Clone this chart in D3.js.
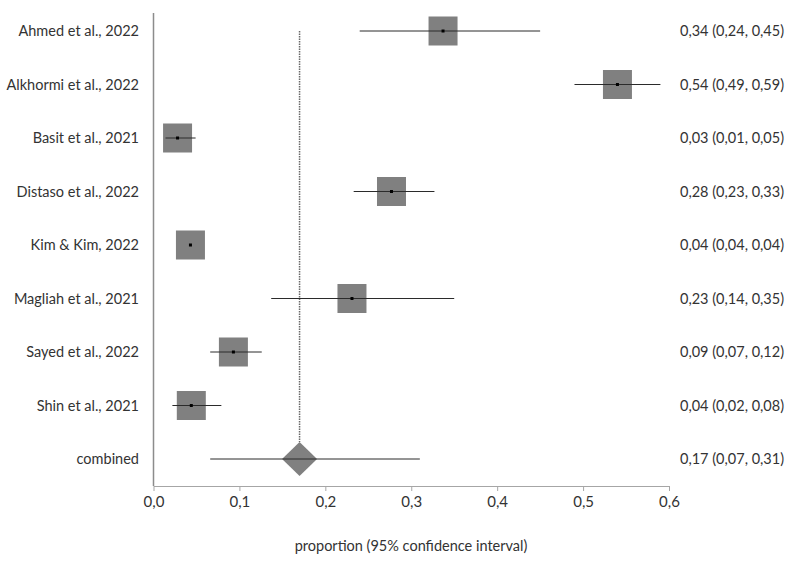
<!DOCTYPE html>
<html>
<head>
<meta charset="utf-8">
<script src="https://cdn.jsdelivr.net/npm/d3@7"></script>
<style>
  body { margin: 0; background: #fff; }
  text { font-family: Lato, "Open Sans", sans-serif; fill: #333; }
</style>
</head>
<body>
<div id="chart"></div>
<script>
// study rows, then the pooled estimate
const studies = ['Ahmed et al., 2022', 'Alkhormi et al., 2022', 'Basit et al., 2021', 'Distaso et al., 2022',
                 'Kim & Kim, 2022', 'Magliah et al., 2021', 'Sayed et al., 2022', 'Shin et al., 2021'];
const estimates = [0.337, 0.54, 0.028, 0.277, 0.043, 0.231, 0.093, 0.044];
const lower = [0.24, 0.49, 0.014, 0.233, 0.04, 0.137, 0.066, 0.022];
const upper = [0.45, 0.59, 0.049, 0.327, 0.04, 0.35, 0.126, 0.079];
const labels = ['0,34 (0,24, 0,45)', '0,54 (0,49, 0,59)', '0,03 (0,01, 0,05)', '0,28 (0,23, 0,33)',
                '0,04 (0,04, 0,04)', '0,23 (0,14, 0,35)', '0,09 (0,07, 0,12)', '0,04 (0,02, 0,08)'];
const combinedName = 'combined';
const combinedEst = 0.17;
const combinedLow = 0.066;
const combinedHigh = 0.31;
const combinedLabel = '0,17 (0,07, 0,31)';
const xTicks = [0, 0.1, 0.2, 0.3, 0.4, 0.5, 0.6];
const xTickLabels = ['0,0', '0,1', '0,2', '0,3', '0,4', '0,5', '0,6'];

const width = 799, height = 563;

const svg = d3.select('#chart').append('svg')
    .attr('width', width)
    .attr('height', height);

const x = d3.scaleLinear().domain([0, 0.6]).range([153.5, 669]);
const y = d3.scalePoint().domain(studies.concat([combinedName])).range([31, 459]);

const rows = studies.map((s, i) => ({name: s, est: estimates[i], lo: lower[i], hi: upper[i], label: labels[i]}));

// x axis
const xAxis = d3.axisBottom(x)
    .tickValues(xTicks)
    .tickFormat((d, i) => xTickLabels[i])
    .tickSizeInner(5)
    .tickSizeOuter(0);
const gx = svg.append('g')
    .attr('transform', 'translate(0,486)')
    .call(xAxis);
gx.select('.domain').attr('stroke', '#a6a6a6');
gx.selectAll('.tick line').attr('stroke', '#a6a6a6');
gx.selectAll('.tick text')
    .attr('dy', 0)
    .attr('y', 21)
    .style('font-size', '15px')
    .attr('fill', '#333');

// left axis line
svg.append('line')
    .attr('x1', x(0)).attr('x2', x(0))
    .attr('y1', 13).attr('y2', 486)
    .attr('stroke', '#8c8c8c')
    .attr('stroke-width', 1.5);

// pooled reference line
svg.append('line')
    .attr('x1', x(combinedEst)).attr('x2', x(combinedEst))
    .attr('y1', y(studies[0])).attr('y2', y(combinedName) - 17)
    .attr('stroke', '#666')
    .attr('stroke-width', 1.5)
    .attr('stroke-dasharray', '1.5,1');

// study boxes
const box = 29;
svg.selectAll('rect.box')
    .data(rows)
    .enter()
    .append('rect')
    .attr('class', 'box')
    .attr('x', d => x(d.est) - box / 2)
    .attr('y', d => y(d.name) - box / 2)
    .attr('width', box)
    .attr('height', box)
    .attr('fill', '#808080');

// combined diamond
const cy = y(combinedName), cx = x(combinedEst);
svg.append('path')
    .attr('d', `M${cx - 17.5},${cy} L${cx},${cy - 17} L${cx + 17.5},${cy} L${cx},${cy + 17} Z`)
    .attr('fill', '#808080');

// confidence intervals
svg.selectAll('line.ci')
    .data(rows.concat([{name: combinedName, est: combinedEst, lo: combinedLow, hi: combinedHigh}]))
    .enter()
    .append('line')
    .attr('class', 'ci')
    .attr('x1', d => x(d.lo))
    .attr('x2', d => x(d.hi))
    .attr('y1', d => y(d.name))
    .attr('y2', d => y(d.name))
    .attr('stroke', '#2b2b2b')
    .attr('stroke-width', 1);

// point markers
svg.selectAll('rect.pt')
    .data(rows)
    .enter()
    .append('rect')
    .attr('class', 'pt')
    .attr('x', d => x(d.est) - 1.5)
    .attr('y', d => y(d.name) - 1.5)
    .attr('width', 3)
    .attr('height', 3)
    .attr('fill', '#000');

// study names
svg.selectAll('text.name')
    .data(studies.concat([combinedName]))
    .enter()
    .append('text')
    .attr('class', 'name')
    .attr('x', 139)
    .attr('y', d => y(d) + 5)
    .attr('text-anchor', 'end')
    .style('font-size', '14.5px')
    .text(d => d);

// estimate labels
svg.selectAll('text.est')
    .data(labels.concat([combinedLabel]))
    .enter()
    .append('text')
    .attr('class', 'est')
    .attr('x', 680)
    .attr('y', (d, i) => y(i < studies.length ? studies[i] : combinedName) + 5)
    .style('font-size', '14.5px')
    .text(d => d);

svg.append('text')
    .attr('x', 411)
    .attr('y', 551)
    .attr('text-anchor', 'middle')
    .style('font-size', '14.5px')
    .text('proportion (95% confidence interval)');
</script>
</body>
</html>
